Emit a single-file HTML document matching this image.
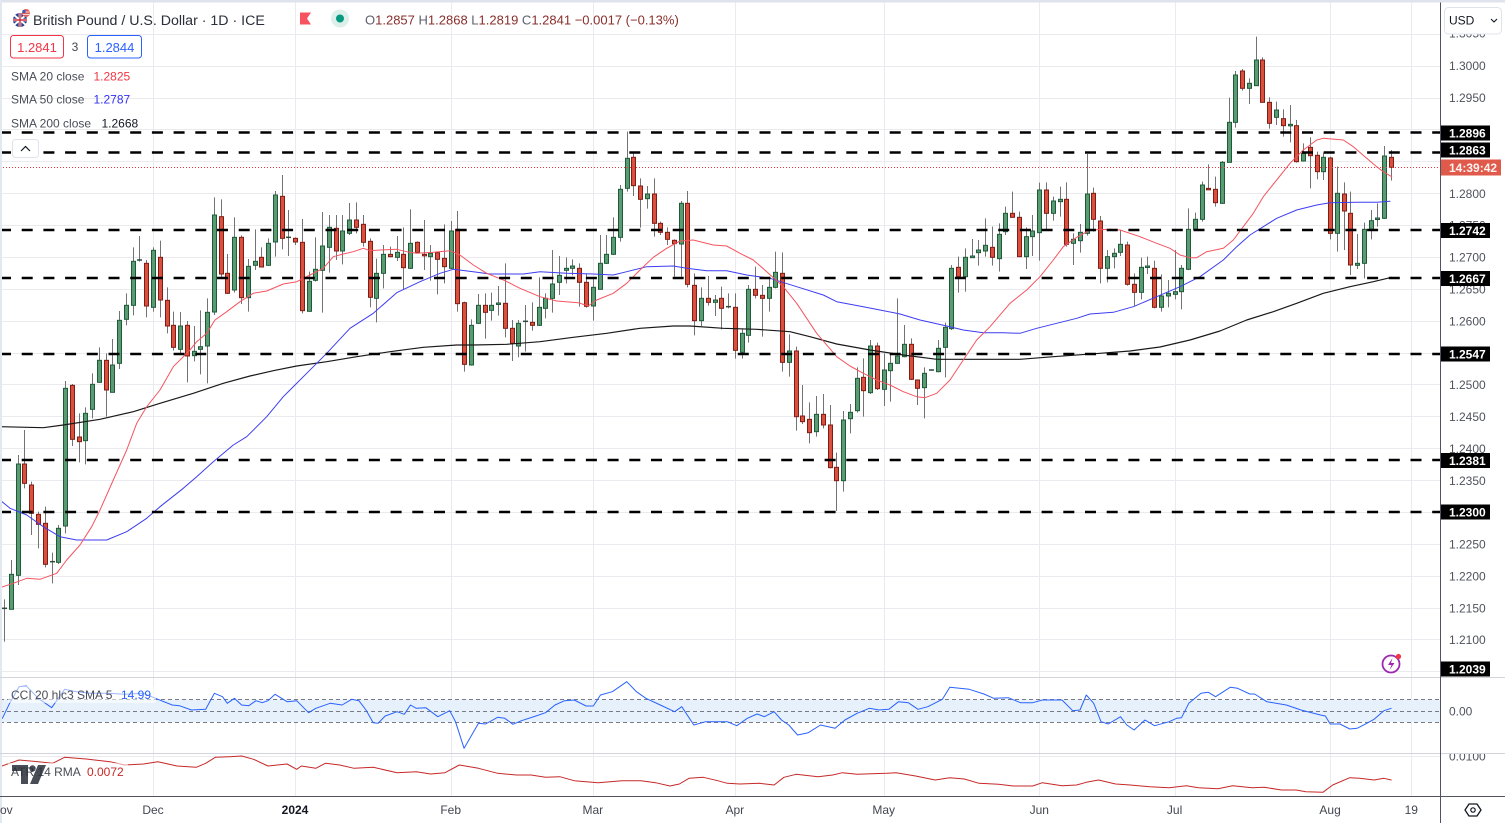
<!DOCTYPE html>
<html><head><meta charset="utf-8">
<style>
html,body{margin:0;padding:0;background:#fff;}
svg{display:block;font-family:"Liberation Sans",Arial,sans-serif;}
</style></head>
<body>
<svg id="c" width="1505" height="823" viewBox="0 0 1505 823" xmlns="http://www.w3.org/2000/svg">
<rect x="0" y="0" width="1505" height="823" fill="#ffffff"/>
<g id="grid"></g>
<!-- CCI band -->
<rect x="0" y="699.5" width="1440" height="22.5" fill="#e6f1fc"/>
<g stroke="#787b86" stroke-width="1" stroke-dasharray="4 3" fill="none">
<line x1="0" x2="1440" y1="699.5" y2="699.5"/>
<line x1="0" x2="1440" y1="711.5" y2="711.5"/>
<line x1="0" x2="1440" y1="722.5" y2="722.5"/>
</g>
<g id="candles"></g>
<!-- SMA lines -->
<g fill="none" stroke-linejoin="round" stroke-linecap="round">
<polyline stroke="#1a1a1a" stroke-width="1.2" points="0,426.7 43.3,427.7 63.3,425 100,419.3 133.3,411.7 160,403.3 193.3,393.3 223.3,383.3 250,376 273.3,370.7 296.7,366 326.7,361.7 356.7,356.7 390,351.7 423.3,347.3 456.7,345 473.3,345 506.7,344.3 540,341.7 573.3,337.3 606.7,333.3 640,328.3 673.3,326 690,326 723.3,328.3 756.7,329.3 790,331.7 810,336.7 836.7,344 870,350 903.3,355 936.7,359.3 970,359.3 1020,359.3 1053.3,356.7 1100,353.3 1130,351 1160,347 1190,340 1220,331 1246.7,320 1273.3,311.7 1296.7,303.3 1323.3,293.3 1350,286.7 1373.3,281.7 1391.7,277.3"/>
<polyline stroke="#3d3df2" stroke-width="1" points="0,500 10,508.3 26.7,515 43.3,526.7 60,536.7 76.7,540 106.7,540 126.7,531.7 146.7,518.3 160,506.7 183.3,488.3 196.7,476.7 213.3,461.7 233.3,445 246.7,436.7 266.7,416.7 283.3,396.7 290,390 306.7,373.3 326.7,353.3 350,328.3 373.3,313.3 396.7,292.7 420,281.7 440,273.3 453.3,269.3 473.3,271.7 490,274 523.3,274 540,271.7 566.7,273.3 593.3,274 613.3,275 626.7,271.7 646.7,266.7 673.3,266 686.7,268.3 706.7,270.7 726.7,270.7 746.7,275 770,278.3 796.7,286.7 823.3,295 836.7,301.7 863.3,306.7 880,310 900,314 920,320 946.7,326 963.3,330 983.3,332.7 1003.3,332.7 1020,333.3 1036.7,328.3 1056.7,323.3 1076.7,318.3 1090,314 1113.3,312.3 1133.3,306.7 1156.7,296.7 1180,286.7 1200,276.7 1223.3,260 1236.7,246.7 1250,235 1263.3,226.7 1276.7,218.3 1296.7,210 1316.7,205 1330,202.7 1356.7,202.3 1376.7,202.3 1390,201.3"/>
<polyline stroke="#f5545f" stroke-width="1" points="0,587.7 13.3,583.3 26.7,578.3 40,579.3 56.7,573.3 66.7,560 80,545 91.7,526.7 100,510 113.3,480 126.7,450 136.7,423.3 146.7,406.7 160,390 173.3,366.7 190,350 196.7,341.7 206.7,333.3 215,320 226.7,311.7 240,301.7 253.3,293.3 266.7,291 283.3,284 296.7,281.7 310,275 323.3,268.3 333.3,256.7 343.3,254 353.3,251.7 363.3,248.3 370,250.7 380,250 396.7,249.3 406.7,251.7 416.7,253.3 433.3,252.3 450,250.7 460,255 473.3,265 486.7,273.3 505,280.7 520,288.3 540,296.7 556.7,301 578.3,302.7 588.3,306 596.7,300 613.3,293.3 626.7,283.3 640,270 653.3,257.3 666.7,248.3 680,241 693.3,240 713.3,245 726.7,246 740,253.3 753.3,260 766.7,271.7 776,280 783.3,286.7 796.7,303.3 816.7,333.3 836.7,356.7 850,366 863.3,373.3 876.7,380 890,385 903.3,391.7 916.7,396.7 925,397.7 936.7,393.3 950,380 963.3,360 976.7,340 990,326.7 1010,303.3 1026.7,290 1040,276.7 1053.3,260 1063.3,246.7 1076.7,237.3 1090,230 1110,229.3 1120,230 1140,236.7 1156.7,243.3 1170,248.3 1180,255 1190,257.7 1196.7,257.7 1206.7,251.7 1223.3,248.3 1233.3,240 1243.3,226.7 1253.3,213.3 1263.3,196.7 1276.7,180 1290,163.3 1303.3,150 1316.7,140 1323.3,138.3 1343.3,140 1353.3,146.7 1366.7,158.3 1376.7,166.7 1383.3,171.7 1391.7,176.7"/>
<!-- CCI -->
<polyline stroke="#2962ff" stroke-width="1" points="2.4,718.3 9.6,703.3 19.1,686.7 26.3,686 38.3,698.3 51.7,707.7 64.6,689.3 76.6,691.7 90.9,693.3 107.7,693.3 124.4,694.3 143.5,693.3 157.9,699.3 172.2,705 179.4,705.7 191.4,710 205.7,709.3 214.4,693.3 222.5,696.7 227.3,703.3 234.4,698.3 241.6,705 248.8,705.7 256,700.7 262.2,702.7 267.9,700.7 275.1,694.3 287.1,701.7 296.7,700.7 308.6,712.7 315.8,708.3 330.1,703.3 342.1,705 351.7,699.3 358.9,700.7 366,710 373.2,722.7 378,723.3 385.2,716 397.1,711.7 404.3,714.3 410.5,705 416.3,708.3 425.8,707.7 437.8,716.7 449.8,710.7 455.5,721.7 464.1,748.3 478.5,723.3 485.6,724 497.6,717.3 504.8,718.3 512.9,724.3 521.5,720.7 535.9,716 545.5,712.7 555,705 564.6,700.7 574.2,700 586.1,706 593.3,706 600.5,695 612.4,691.7 626.8,681.7 636.4,691.7 645.9,698.3 660.3,705 674.6,711.7 681.8,706.7 693.8,725 705.7,721.7 727.3,721.7 736.8,725.7 747.3,718.3 757.1,714 764.4,716.7 774.1,711.7 781.5,720 788.8,725 797.6,735 808.3,732.7 820.5,725 835.1,728.3 844.9,720 857.1,713.3 869.3,708.3 879,710 888.8,709.3 898.5,701.7 908.3,702.7 918,709.3 927.8,706.7 942.4,699.3 949.8,687.3 969.3,689.3 983.9,694 993.7,698.3 1008.3,697.7 1020.5,702.7 1032.7,702.7 1042.4,700 1062,700 1072.7,710.7 1080,710 1086.3,695 1093.7,703.3 1101,721.7 1108.3,724 1120.5,716.7 1126.8,725 1134.1,730 1144.9,720 1154.6,725.7 1169.3,721.7 1176.6,718.3 1181.5,717.7 1188.8,703.3 1201,693.3 1208.3,692.3 1215.6,696.7 1230.2,687.3 1237.6,688.3 1249.8,694 1254.6,694 1266.8,701.7 1286.3,705 1301,710 1320.5,715 1325.4,716 1330.2,724 1340,724 1349.8,729 1357.1,728.3 1366.8,723.3 1374.1,719.3 1383.9,710.7 1391.2,708.3"/>
<!-- ATR -->
<polyline stroke="#c62828" stroke-width="1" points="0,766.7 19.1,760 38.3,761.7 52.6,763.3 64.6,757.3 86.1,759 110,761.7 124.4,765 143.5,764 157.9,761.7 177,766 196.2,767.3 205.7,763.3 215.3,757.3 229.7,756.7 241.6,756 253.6,759.3 267.9,766 287.1,764 296.7,769.3 301.4,766 315.8,768.3 325.4,763.3 339.7,765 354.1,768.3 373.2,767.3 397.1,772.7 416.3,771.7 430.6,774 445,772.7 459.3,765 478.5,768.3 497.6,773.3 516.7,775 531.1,775 545.5,777.3 559.8,776.7 574.2,780.7 598.1,782.7 622,780.7 641.1,780.7 655.5,782.7 669.9,786 679.4,784 689,778.3 703.3,777.3 717.7,780.7 727.3,783.3 740,784 759.5,783.3 774.1,785 783.9,777.3 796.1,774.3 818,776.7 832.7,775 842.4,772.7 857.1,774.3 886.3,773.3 896.1,772.7 915.6,776 935.1,780 949.8,777.7 964.4,779 979,783.3 998.5,784.3 1013.2,786 1032.7,786 1042.4,782.7 1062,785.7 1076.6,785 1086.3,782.3 1098.5,780 1115.6,784 1130.2,785 1149.8,786.7 1169.3,787.7 1186.3,785.7 1198.5,787.7 1218,788.7 1232.7,785.7 1252.2,787.7 1264.4,787.3 1281.5,790 1296.1,790 1305.9,791.7 1322.9,792.3 1332.7,785 1349.8,777.7 1359.5,778.3 1374.1,780 1383.9,778.3 1391.2,780"/>
</g>
<!-- horizontal levels -->
<g stroke="#000" stroke-width="2.5" stroke-dasharray="11 10.7" fill="none">
<line x1="0" x2="1440" y1="132.5" y2="132.5"/>
<line x1="0" x2="1440" y1="152.5" y2="152.5"/>
<line x1="0" x2="1440" y1="230" y2="230"/>
<line x1="0" x2="1440" y1="278" y2="278"/>
<line x1="0" x2="1440" y1="354" y2="354"/>
<line x1="0" x2="1440" y1="460" y2="460"/>
<line x1="0" x2="1440" y1="512" y2="512"/>
</g>
<line x1="0" x2="1440" y1="167.5" y2="167.5" stroke="#f23645" stroke-width="1" stroke-dasharray="1 2"/>

<!-- frame edges -->
<rect x="0" y="0" width="1505" height="2.5" fill="#dfe3ec"/>
<rect x="0" y="0" width="2" height="823" fill="#e3e7ef"/>

<!-- legend -->
<g>
<circle cx="20" cy="20" r="7" fill="#24408e"/>
<path d="M14,15 L26,25 M26,15 L14,25" stroke="#fff" stroke-width="2"/>
<path d="M20,13 V27 M13,20 H27" stroke="#fff" stroke-width="2.6"/>
<path d="M20,13 V27 M13,20 H27" stroke="#d22f3a" stroke-width="1.4"/>
<circle cx="26" cy="13" r="4" fill="#e25b5b"/>
<path d="M22.5,12 H29.5 M22.5,14.5 H29.5" stroke="#fff" stroke-width="0.8"/>
<rect x="22.5" y="10" width="3" height="3" fill="#3b5bb0"/>
<text x="33" y="25" font-size="14.2" fill="#2a2e39">British Pound / U.S. Dollar · 1D · ICE</text>
<path d="M300,12.5 H311 L307,18.5 L311,24.5 H300 Z" fill="#f7525f"/>
<circle cx="340" cy="18.5" r="9" fill="#dcefea"/>
<circle cx="340" cy="18.5" r="4" fill="#089981"/>
<text x="365" y="24.5" font-size="13"><tspan fill="#5d606b">O</tspan><tspan fill="#8a2f2c">1.2857</tspan> <tspan fill="#5d606b">H</tspan><tspan fill="#8a2f2c">1.2868</tspan> <tspan fill="#5d606b">L</tspan><tspan fill="#8a2f2c">1.2819</tspan> <tspan fill="#5d606b">C</tspan><tspan fill="#8a2f2c">1.2841</tspan> <tspan fill="#8a2f2c">−0.0017 (−0.13%)</tspan></text>
<rect x="10.5" y="35.5" width="53" height="22.5" rx="3" fill="#fff" stroke="#f23645" stroke-width="1"/>
<text x="37" y="52" font-size="13" fill="#f23645" text-anchor="middle">1.2841</text>
<text x="75" y="51" font-size="12" fill="#434651" text-anchor="middle">3</text>
<rect x="87.5" y="35.5" width="54" height="22.5" rx="3" fill="#fff" stroke="#2962ff" stroke-width="1"/>
<text x="114.5" y="52" font-size="13" fill="#2962ff" text-anchor="middle">1.2844</text>
<text x="11" y="80.3" font-size="12" fill="#4a4d57">SMA 20 close</text>
<text x="93.5" y="80.3" font-size="12" fill="#f23645">1.2825</text>
<text x="11" y="103.6" font-size="12" fill="#4a4d57">SMA 50 close</text>
<text x="93.5" y="103.6" font-size="12" fill="#3030f0">1.2787</text>
<text x="11" y="127.6" font-size="12" fill="#4a4d57">SMA 200 close</text>
<text x="101.5" y="127.6" font-size="12" fill="#131722">1.2668</text>
<rect x="12.5" y="139.5" width="26" height="18" rx="3" fill="#fff" stroke="#e0e3eb"/>
<polyline points="21,151 25.5,146.5 30,151" fill="none" stroke="#131722" stroke-width="1.2"/>
</g>

<!-- lightning icon -->
<circle cx="1391" cy="664" r="8.5" fill="#fff" stroke="#9c27b0" stroke-width="1.8"/>
<path d="M1392.5,658 L1388,665 H1391.5 L1389.5,670 L1394.5,663 H1391 Z" fill="#9c27b0"/>
<circle cx="1398.5" cy="656.5" r="2.6" fill="#f23645"/>

<!-- pane separators -->
<line x1="0" x2="1505" y1="677.5" y2="677.5" stroke="#d1d4dc"/>
<line x1="0" x2="1505" y1="753.5" y2="753.5" stroke="#d1d4dc"/>

<!-- indicator legends -->
<rect x="8" y="686" width="148" height="17" fill="#fff" opacity="0.55"/>
<text x="11" y="699" font-size="12" fill="#4a4d57">CCI 20 hlc3 SMA 5</text>
<text x="121" y="699" font-size="12" fill="#2962ff">14.99</text>
<rect x="8" y="763" width="120" height="17" fill="#fff" opacity="0.55"/>
<text x="11" y="776" font-size="12" fill="#4a4d57">ATR 14 RMA</text>
<text x="87" y="776" font-size="12" fill="#c62828">0.0072</text>
<g fill="#2a2e39" opacity="0.85">
<path d="M12,765 H28 V784 H21 V771 H12 Z"/>
<circle cx="32.5" cy="768.5" r="3.2"/>
<path d="M38,765 H46 L38,784 H30 Z"/>
</g>

<!-- right axis -->
<rect x="1441" y="2.5" width="64" height="674.5" fill="#fff"/>
<rect x="1441" y="678" width="64" height="75" fill="#fff"/>
<rect x="1441" y="754" width="64" height="42" fill="#fff"/>
<g font-size="12" fill="#50535e">
<text x="1449" y="37.6">1.3050</text>
<text x="1449" y="70.2">1.3000</text>
<text x="1449" y="102.1">1.2950</text>
<text x="1449" y="197.8">1.2800</text>
<text x="1449" y="229.7">1.2750</text>
<text x="1449" y="261.6">1.2700</text>
<text x="1449" y="293.5">1.2650</text>
<text x="1449" y="325.3">1.2600</text>
<text x="1449" y="389.1">1.2500</text>
<text x="1449" y="421">1.2450</text>
<text x="1449" y="452.9">1.2400</text>
<text x="1449" y="484.8">1.2350</text>
<text x="1449" y="548.5">1.2250</text>
<text x="1449" y="580.4">1.2200</text>
<text x="1449" y="612.3">1.2150</text>
<text x="1449" y="644.2">1.2100</text>
<text x="1449" y="715.3">0.00</text>
</g>
<svg x="1441" y="754" width="64" height="42" overflow="hidden"><text x="8" y="6.5" font-size="12" fill="#50535e">0.0100</text></svg>
<!-- level markers -->
<g font-size="12" font-weight="bold" fill="#fff">
<rect x="1441" y="125.5" width="49" height="15" fill="#000"/><text x="1449" y="137.3">1.2896</text>
<rect x="1441" y="142.5" width="49" height="15" fill="#000"/><text x="1449" y="154.3">1.2863</text>
<rect x="1441" y="159.5" width="60" height="16" fill="#e05a4b"/><text x="1449" y="171.8" fill="#fff3f1">14:39:42</text>
<rect x="1441" y="223" width="49" height="15" fill="#000"/><text x="1449" y="234.8">1.2742</text>
<rect x="1441" y="271" width="49" height="15" fill="#000"/><text x="1449" y="282.8">1.2667</text>
<rect x="1441" y="346.5" width="49" height="15" fill="#000"/><text x="1449" y="358.3">1.2547</text>
<rect x="1441" y="453" width="49" height="15" fill="#000"/><text x="1449" y="464.8">1.2381</text>
<rect x="1441" y="504.5" width="49" height="15" fill="#000"/><text x="1449" y="516.3">1.2300</text>
<rect x="1441" y="661.5" width="49" height="15" fill="#000"/><text x="1449" y="673.3">1.2039</text>
</g>
<!-- USD box -->
<rect x="1444.5" y="7.5" width="57" height="26.5" rx="4" fill="#fff" stroke="#e0e3eb"/>
<text x="1449" y="24.5" font-size="12" fill="#131722">USD</text>
<polyline points="1491,19 1494,22 1497,19" fill="none" stroke="#131722" stroke-width="1.1"/>

<!-- axis borders -->
<line x1="1440.5" x2="1440.5" y1="2.5" y2="823" stroke="#50535e"/>
<line x1="0" x2="1505" y1="796.5" y2="796.5" stroke="#50535e"/>

<!-- time axis -->
<g font-size="12" fill="#434651" text-anchor="middle">
<text x="2" y="814">Nov</text>
<text x="153" y="814">Dec</text>
<text x="295" y="814" font-weight="bold" fill="#131722">2024</text>
<text x="450.7" y="814">Feb</text>
<text x="592.8" y="814">Mar</text>
<text x="734.8" y="814">Apr</text>
<text x="883.7" y="814">May</text>
<text x="1039.3" y="814">Jun</text>
<text x="1174.6" y="814">Jul</text>
<text x="1330.1" y="814">Aug</text>
<text x="1411.3" y="814">19</text>
</g>
<path d="M1469,804 L1477,804 L1481,810 L1477,816 L1469,816 L1465,810 Z" fill="none" stroke="#131722" stroke-width="1.3" stroke-linejoin="round"/>
<circle cx="1473" cy="810" r="2.2" fill="none" stroke="#131722" stroke-width="1.2"/>
</svg>
<script>
(function(){
const ns="http://www.w3.org/2000/svg";
function el(tag,attrs,parent){const e=document.createElementNS(ns,tag);for(const k in attrs)e.setAttribute(k,attrs[k]);parent.appendChild(e);return e;}
const Y=p=>8354.2-6375.8*p;
const grid=document.getElementById('grid');
for(let i=0;i<=20;i++){const p=1.305-0.005*i;const y=Math.round(Y(p))+0.5;el('line',{x1:0,x2:1440,y1:y,y2:y,stroke:'#ebebef','stroke-width':1},grid);}
el('line',{x1:0,x2:1440,y1:756.5,y2:756.5,stroke:'#ebebef'},grid);
[153,295,450.7,592.8,734.8,883.7,1039.3,1174.6,1330.1,1411.3].forEach(x=>{x=Math.round(x)+0.5;el('line',{x1:x,x2:x,y1:2,y2:796,stroke:'#ebebef','stroke-width':1},grid);});
const D=[
[160,0,"d 1344 1346 1318 1445;g 1243 1348 1200 1348;g 912 1246 885 1275;r 912 970 810 985;r 975 1060 965 1125;r 1063 1093 1055 1165;r 1090 1213 1040 1222;d 1204 1206 1178 1270;g 1105 1207 1095 1212;g 685 1098 663 1120;r 676 838 672 858;r 831 845 760 907;g 760 842 742 913;g 673 748 640 775;g 601 667 562 668;r 601 690 580 770;g 615 697 537 697;g 481 610 453 627;g 436 478 400 496;g 304 436 262 466;d 299 301 228 305;r 310 438 300 472;g 271 442 262 455;r 292 420 242 472;r 421 498 382 520;r 496 562 455 572;g 498 568 456 583;r 496 588 483 667;g 574 587 498 604;g 560 568 451 643;g 457 558 415 670;g 165 456 112 465;r 170 342 118 352;r 340 400 282 402;g 232 390 172 398;r 232 413 226 432;g 319 413 297 455;g 304 316 208 330;r 292 321 262 322;g 250 316 235 318;g 105 246 93 290;r 109 235 45 268;d 231 233 150 288;r 235 246 232 255"],
[120,44,"r 367 572 297 580;g 484 574 455 575;g 448 481 352 485;g 378 451 276 578;g 322 382 285 458;r 325 393 285 420;g 333 393 285 433;g 300 340 249 345;r 300 322 247 340;r 313 367 285 380;r 364 532 355 562;g 460 535 416 607;g 403 460 375 505;r 403 410 380 412;g 397 412 348 423;r 403 443 322 508;g 370 445 268 447;r 367 397 364 400;r 403 406 300 450;g 400 410 375 482;r 398 418 395 523;r 415 440 313 490;g 333 445 303 447;r 328 551 273 575;r 548 733 545 755;g 616 735 598 737"],
[120,70,"g 556 610 522 612;r 556 577 520 656;g 556 571 518 602;g 549 553 498 587;r 550 625 430 652;r 625 670 600 723;g 610 678 600 712;d 603 605 555 695;r 607 616 547 632;g 562 616 472 618;g 535 565 520 595;g 492 535 390 578;g 466 487 408 525;g 445 451 412 490;g 438 445 418 466;r 445 487 430 560;r 487 559 460 563;g 502 558 475 602;g 430 508 345 508;g 403 430 345 432;g 352 403 292 405;g 208 352 195 365;g 115 205 35 215;r 112 197 100 228;r 198 238 175 323;g 222 236 198 266;r 222 310 175 350;r 310 337 305 345;r 337 358 322 375;r 361 371 358 470;g 250 372 243 470;r 250 493 213 502;r 496 602 460 646;g 535 602 502 618;r 535 547 468 557;g 540 547 525 588;r 535 565 500 628;d 559 561 520 565;r 562 691 520 716;g 640 697 625 716;g 508 646 495 668;r 508 526 440 535;r 526 535 495 650;g 502 535 470 575;g 457 502 395 505"],
[140,115,"r 400 667 337 695;g 633 667 583 710;r 633 830 620 872;r 828 845 735 852;r 838 878 787 910;g 823 875 768 890;r 823 855 762 865;r 855 983 795 985;r 982 1022 938 1113;g 840 1022 813 1055;g 817 836 792 880;g 715 812 682 818;r 712 752 655 830;g 618 758 600 762;r 618 746 608 750;g 690 748 640 798;g 670 692 640 785;g 648 670 475 672;g 613 650 555 652;r 613 718 595 720;r 720 745 718 795;g 700 743 682 835;d 689 691 688 692;g 625 695 600 697;g 562 622 548 712;g 385 566 375 570;r 382 410 350 458;g 352 410 325 455;g 348 353 297 352;g 330 338 300 377;g 316 333 235 350;r 322 352 260 377;g 283 356 250 395;g 220 275 200 285;r 220 232 155 233;r 232 350 215 350;g 290 350 262 387;g 273 290 225 348;g 150 278 128 362;r 150 220 127 270;g 183 220 170 242;g 178 185 140 230;r 178 313 127 320;g 298 310 280 375;g 277 302 252 338;g 162 280 42 287;r 160 238 143 275"],
[30,162,"r 573 715 558 760;g 680 715 660 757;g 670 680 655 715;g 643 667 600 678;r 645 763 635 767;r 763 787 730 827;g 712 787 683 808;g 708 712 680 732;r 715 832 692 835;g 798 832 733 845;g 790 798 750 832;g 785 793 660 808;g 715 785 705 838;g 598 718 535 720;g 568 598 548 600;g 465 568 455 575;r 475 479 403 480;r 478 518 440 530;g 397 520 393 522;g 277 397 203 397;g 135 277 123 293;r 123 175 117 182;g 160 175 145 222;g 90 167 20 168;r 90 217 82 217;r 217 280 202 296;g 240 262 215 285;r 266 287 238 320;g 283 287 225 337;r 287 395 270 398;g 370 393 340 395;r 352 377 322 475;r 376 425 365 448;g 382 425 368 450;r 384 610 380 628;g 490 610 410 665;r 492 543 457 660;r 550 705 485 735;g 700 706 612 717;g 598 700 578 745;g 572 598 540 628;g 564 568 520 590;g 378 565 348 567;r 382 412 360 452"]
];
const cg=document.getElementById('candles');
D.forEach(function(g){const oy=g[0],n0=g[1];g[2].split(';').forEach(function(c,i){
 const a=c.trim().split(/\s+/);const t=a[0];const v=a.slice(1).map(function(s){return oy+(+s)/3;});
 const n=n0+i;const cx=Math.round(4.2+6.765*n);
 el('line',{x1:cx+0.5,x2:cx+0.5,y1:v[2],y2:v[3],stroke:'#737373','stroke-width':1},cg);
 if(t==='d'){el('rect',{x:cx-2,y:(v[0]+v[1])/2-0.75,width:5,height:1.5,fill:'#2e4a3a'},cg);return;}
 const h=Math.max(v[1]-v[0],1.5);
 el('rect',{x:cx-1.5,y:v[0],width:4,height:h,fill:t==='r'?'#d9503f':'#5b9b74',stroke:t==='r'?'#7f1d14':'#1f5a38','stroke-width':1},cg);
});});
})();
</script>
</body></html>
